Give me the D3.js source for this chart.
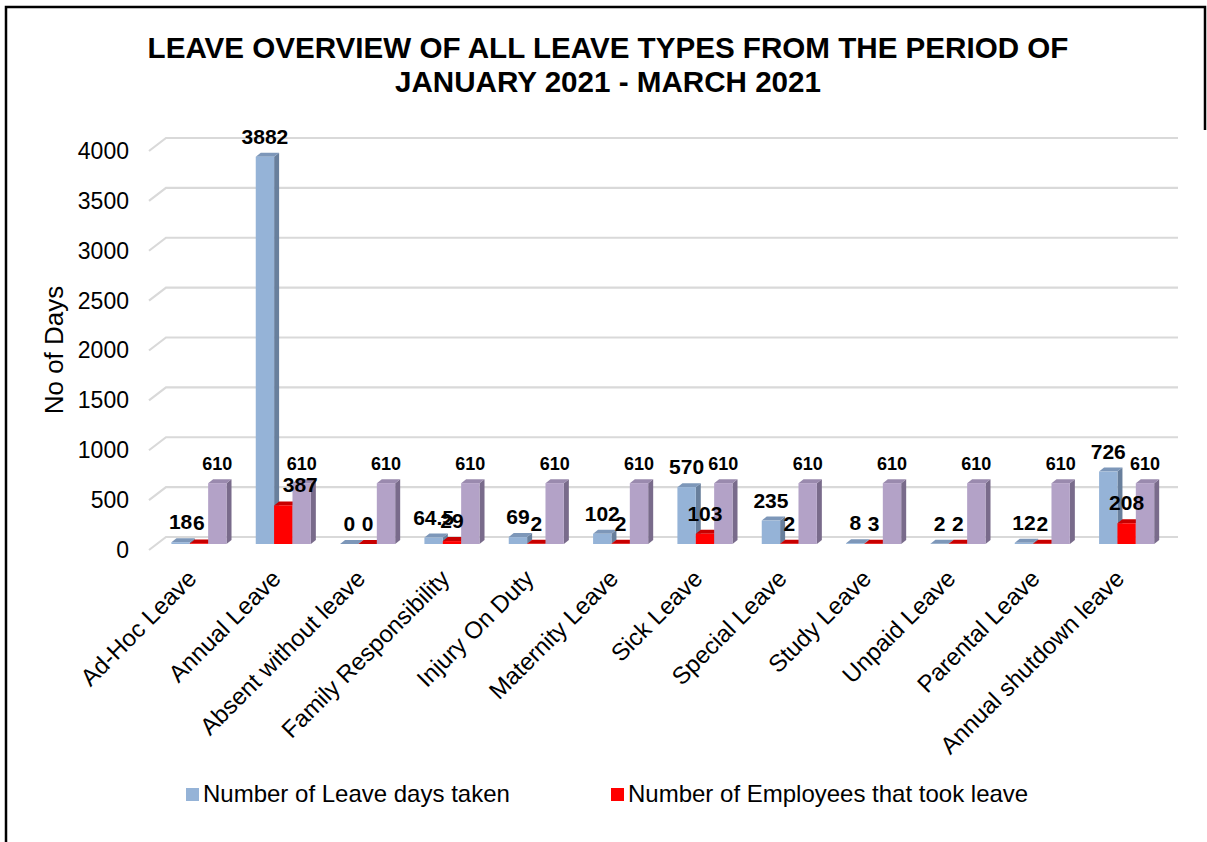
<!DOCTYPE html>
<html>
<head>
<meta charset="utf-8">
<script src="https://cdn.jsdelivr.net/npm/d3@7"></script>
<style>
  html, body { margin: 0; padding: 0; background: #ffffff; }
  svg { display: block; font-family: "Liberation Sans", Arial, sans-serif; }
</style>
</head>
<body>
<svg id="chart" width="1207" height="842"></svg>
<script>
// ---- data ----
const categories = [
  "Ad-Hoc Leave", "Annual Leave", "Absent without leave", "Family Responsibility",
  "Injury On Duty", "Maternity Leave", "Sick Leave", "Special Leave",
  "Study Leave", "Unpaid Leave", "Parental Leave", "Annual shutdown leave"
];
const leaveDaysTaken = [18, 3882, 0, 64.5, 69, 102, 570, 235, 8, 2, 12, 726];
const employeesTookLeave = [6, 387, 0, 29, 2, 2, 103, 2, 3, 2, 2, 208];
const staffTotal = [610, 610, 610, 610, 610, 610, 610, 610, 610, 610, 610, 610];
const yTickValues = [0, 500, 1000, 1500, 2000, 2500, 3000, 3500, 4000];
const legendNames = ["Number of Leave days taken", "Number of Employees that took leave"];

const chartTitle = ["LEAVE OVERVIEW OF ALL LEAVE TYPES FROM THE PERIOD OF", "JANUARY 2021 - MARCH 2021"];
const yTitle = "No of Days";

// ---- styling ----
const faceColors = [
  { front: "#95b3d7", top: "#7d97b9", side: "#687f9c" },
  { front: "#ff0000", top: "#c80000", side: "#a80000" },
  { front: "#b3a2c7", top: "#9a8aae", side: "#796b8b" }
];
const seriesValues = [leaveDaysTaken, employeesTookLeave, staffTotal];

const svg = d3.select("#chart");

// frame
svg.append("path")
  .attr("d", "M6,842 L6,7 L1205,7 L1205,130")
  .attr("fill", "none").attr("stroke", "#000").attr("stroke-width", 2.5);

// title
svg.append("g").selectAll("text").data(chartTitle).join("text")
  .attr("x", 608).attr("y", (d, i) => 58 + i * 34)
  .attr("text-anchor", "middle")
  .attr("font-size", 29.6).attr("font-weight", "bold")
  .text(d => d);

// ---- 3D layout ----
const floorLeft = 149, floorRight = 1161;
const wall = { dx: 17, dy: -13 };          // floor depth (front plane -> back wall)
const barFront = { dx: 7.8, dy: -6 };      // bars sit part way into the floor
const barDepth = { dx: 5, dy: -4 };        // thickness of each column

const x = d3.scaleBand().domain(categories).range([floorLeft, floorRight])
  .paddingInner(0.3466).paddingOuter(0.1733);
const xs = d3.scaleBand().domain(d3.range(seriesValues.length)).range([0, x.bandwidth()]);
const y = d3.scaleLinear().domain([0, 4000]).range([550, 151]);

// gridlines: side wall diagonal + back wall horizontal
svg.append("g").selectAll("path").data(yTickValues).join("path")
  .attr("d", t => `M${floorLeft},${y(t)} L${floorLeft + wall.dx},${y(t) + wall.dy} L${floorRight + wall.dx},${y(t) + wall.dy}`)
  .attr("fill", "none").attr("stroke", "#d9d9d9").attr("stroke-width", 2.2);

// y axis
const yAxis = d3.axisLeft(y).tickValues(yTickValues).tickFormat(d3.format("d")).tickSize(0).tickPadding(0);
const yg = svg.append("g").attr("transform", "translate(129,0)").call(yAxis);
yg.select(".domain").remove();
yg.selectAll("text").attr("font-size", 23).attr("fill", "#000")
  .attr("font-family", "Liberation Sans, Arial, sans-serif");

svg.append("text")
  .attr("transform", "translate(63,350) rotate(-90)")
  .attr("text-anchor", "middle").attr("font-size", 26)
  .text(yTitle);

// bars
const bars = [];
categories.forEach((c, ci) => {
  seriesValues.forEach((vals, si) => {
    bars.push({ cat: c, si, v: vals[ci] });
  });
});

const barG = svg.append("g");
bars.forEach(b => {
  const xl = x(b.cat) + xs(b.si) + barFront.dx;
  const xr = xl + xs.bandwidth();
  const yb = y(0) + barFront.dy;
  const yt = y(b.v) + barFront.dy;
  const col = faceColors[b.si];
  const g = barG.append("g");
  g.append("path")
    .attr("d", `M${xr},${yb} L${xr},${yt} L${xr + barDepth.dx},${yt + barDepth.dy} L${xr + barDepth.dx},${yb + barDepth.dy} Z`)
    .attr("fill", col.side);
  g.append("path")
    .attr("d", `M${xl},${yt} L${xr},${yt} L${xr + barDepth.dx},${yt + barDepth.dy} L${xl + barDepth.dx},${yt + barDepth.dy} Z`)
    .attr("fill", col.top);
  g.append("rect")
    .attr("x", xl).attr("y", yt).attr("width", xs.bandwidth()).attr("height", Math.max(0, yb - yt))
    .attr("fill", col.front);
});

// value labels
const labelNudge = { "Annual Leave|1": 17 };
const labelG = svg.append("g");
bars.forEach(b => {
  const cx = x(b.cat) + xs(b.si) + barFront.dx + xs.bandwidth() / 2 + (labelNudge[b.cat + "|" + b.si] || 0);
  labelG.append("text")
    .attr("x", cx).attr("y", y(b.v) + barFront.dy - 13)
    .attr("text-anchor", "middle")
    .attr("font-size", b.si === 2 ? 18 : 21).attr("font-weight", "bold")
    .text(b.v);
});

// category axis
const xAxis = d3.axisBottom(x).tickSize(0).tickPadding(0);
const xg = svg.append("g").attr("transform", "translate(0,0)").call(xAxis);
xg.select(".domain").remove();
xg.selectAll("text")
  .attr("font-size", 24).attr("fill", "#000")
  .attr("font-family", "Liberation Sans, Arial, sans-serif")
  .attr("text-anchor", "end").attr("dy", null).attr("y", null)
  .attr("transform", `translate(${barFront.dx - 1},580) rotate(-45)`);

// legend
const legendX = [186, 611];
const lg = svg.append("g").selectAll("g").data(legendNames).join("g")
  .attr("transform", (d, i) => `translate(${legendX[i]},788)`);
lg.append("rect").attr("width", 13).attr("height", 13).attr("fill", (d, i) => faceColors[i].front);
lg.append("text").attr("x", 17).attr("y", 14).attr("font-size", 24).text(d => d);
</script>
</body>
</html>
